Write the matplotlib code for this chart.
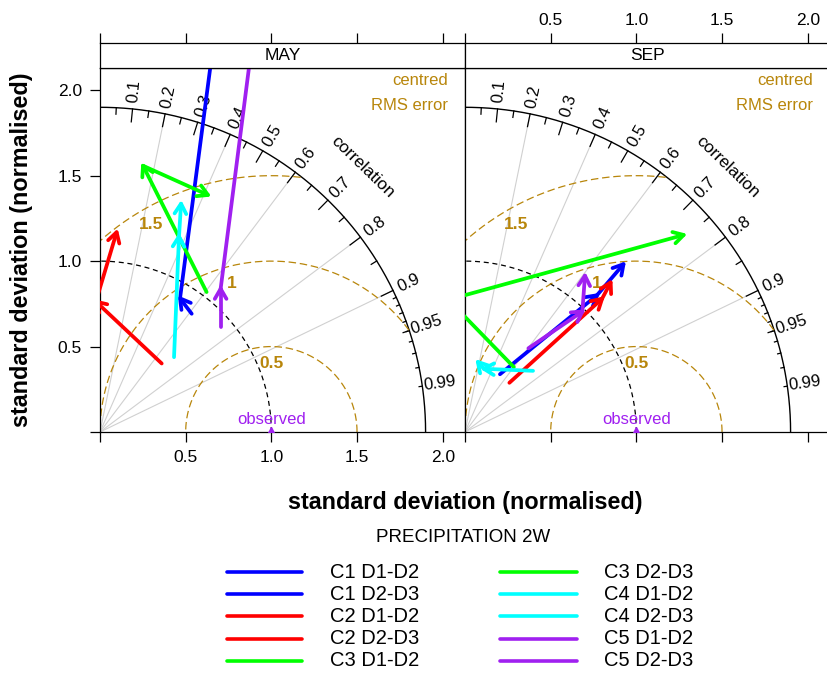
import numpy as np
import matplotlib
matplotlib.use("Agg")
import matplotlib.pyplot as plt
from matplotlib.lines import Line2D

plt.rcParams['font.family'] = ['Liberation Sans', 'DejaVu Sans']

# ---- data (normalised sd, cartesian: x = sd*R, y = sd*sqrt(1-R^2)), points D1, D2, D3
series = ["C1", "C2", "C3", "C4", "C5"]
colours = ["#0000FF", "#FF0000", "#00FF00", "#00FFFF", "#A020F0"]
steps = ["D1-D2", "D2-D3"]

may_x = {"C1": [0.535, 0.467, 0.685], "C2": [0.360, -0.024, 0.097], "C3": [0.622, 0.251, 0.630],
         "C4": [0.432, 0.461, 0.473], "C5": [0.704, 0.704, 0.910]}
may_y = {"C1": [0.692, 0.782, 2.450], "C2": [0.401, 0.763, 1.169], "C3": [0.819, 1.558, 1.387],
         "C4": [0.438, 1.144, 1.336], "C5": [0.614, 0.838, 2.450]}
sep_x = {"C1": [0.204, 0.770, 0.925], "C2": [0.259, 0.800, 0.850], "C3": [0.285, -0.097, 1.276],
         "C4": [0.397, 0.110, 0.075], "C5": [0.370, 0.685, 0.700]}
sep_y = {"C1": [0.338, 0.800, 0.982], "C2": [0.288, 0.780, 0.875], "C3": [0.380, 0.774, 1.153],
         "C4": [0.358, 0.370, 0.410], "C5": [0.490, 0.705, 0.915]}

months = ["MAY", "SEP"]
panel_x = [may_x, sep_x]
panel_y = [may_y, sep_y]

corr_labels = [0.1, 0.2, 0.3, 0.4, 0.5, 0.6, 0.7, 0.8, 0.9, 0.95, 0.99]
rms_levels = [0.5, 1.0, 1.5]
axis_ticks = [0, 0.5, 1.0, 1.5, 2.0]
axis_ticklabels = ["", "0.5", "1.0", "1.5", "2.0"]

# ---- layout
W, H = 827, 675
LIM = 2.13
MAXSD = 1.9
HEAD = 0.068
GOLD = "#B8860B"
PURPLE = "#A020F0"

fig = plt.figure(figsize=(W / 100, H / 100), dpi=100)


def box(x0, y0, x1, y1):
    return [x0 / W, 1 - y1 / H, (x1 - x0) / W, (y1 - y0) / H]


def arrow(ax, x0, y0, x1, y1, col):
    ax.plot([x0, x1], [y0, y1], color=col, lw=2.7, solid_capstyle='round', zorder=6)
    ang = np.arctan2(y1 - y0, x1 - x0)
    a1 = ang + np.pi - np.radians(30)
    a2 = ang + np.pi + np.radians(30)
    ax.plot([x1 + HEAD * np.cos(a1), x1, x1 + HEAD * np.cos(a2)],
            [y1 + HEAD * np.sin(a1), y1, y1 + HEAD * np.sin(a2)],
            color=col, lw=2.7, solid_capstyle='round', solid_joinstyle='round', zorder=6)


for k in range(2):
    left = 100 + 365 * k
    ax = fig.add_axes(box(left, 68, left + 365, 432))
    ax.set_xlim(0, LIM)
    ax.set_ylim(0, LIM)
    for sp in ax.spines.values():
        sp.set_linewidth(0.9)

    # grey correlation lines
    for c in [0.2, 0.4, 0.6, 0.8, 0.9]:
        ax.plot([0, MAXSD * c], [0, MAXSD * np.sqrt(1 - c ** 2)], color="#D0D0D0", lw=0.8, zorder=1)

    # outer arc and sd=1 arc
    th = np.linspace(0, np.pi / 2, 300)
    ax.plot(MAXSD * np.cos(th), MAXSD * np.sin(th), color="black", lw=1.0, zorder=2)
    ax.plot(np.cos(th), np.sin(th), color="black", lw=0.9, ls=(0, (4, 3)), zorder=2)

    # correlation ticks
    big = np.arange(0.1, 0.91, 0.1)
    med = np.arange(0.05, 0.96, 0.1)
    sml = np.arange(0.91, 0.995, 0.01)
    for vals, f in [(big, 0.96), (med, 0.98), (sml, 0.99)]:
        for c in vals:
            s = np.sqrt(1 - c ** 2)
            ax.plot([MAXSD * c, f * MAXSD * c], [MAXSD * s, f * MAXSD * s], color="black", lw=0.9, zorder=2)
    for c in corr_labels:
        a = np.degrees(np.arccos(c))
        ax.text(1.055 * MAXSD * c, 1.055 * MAXSD * np.sqrt(1 - c ** 2), str(c), rotation=a,
                rotation_mode='anchor', ha='center', va='center', fontsize=12, zorder=3)
    ax.text(1.535, 1.55, "correlation", rotation=-44, ha='center', va='center', fontsize=12.5, zorder=3)

    # centred RMS error arcs
    th2 = np.linspace(0, np.pi, 400)
    for rr in rms_levels:
        xx = 1 + rr * np.cos(th2)
        yy = rr * np.sin(th2)
        out = xx ** 2 + yy ** 2 > MAXSD ** 2
        xx[out] = np.nan
        yy[out] = np.nan
        ax.plot(xx, yy, color=GOLD, lw=0.9, ls=(0, (6, 3)), zorder=2)
        a = np.radians(90 + 30 * (rr - 0.5))
        ax.text(1 + (rr - 0.1) * np.cos(a), (rr - 0.1) * np.sin(a), f"{rr:g}", color=GOLD,
                fontweight='bold', fontsize=12.5, ha='center', va='center', zorder=3)
    ax.text(2.03, 2.054, "centred", color=GOLD, fontsize=12, ha='right', va='center')
    ax.text(2.03, 1.908, "RMS error", color=GOLD, fontsize=12, ha='right', va='center')

    # observed
    ax.plot([1.0], [0.0], marker='^', color=PURPLE, ms=7, zorder=4)
    ax.text(1.0, 0.076, "observed", color=PURPLE, fontsize=12, ha='center', va='center', zorder=4)

    # arrows
    xs, ys = panel_x[k], panel_y[k]
    for name, col in zip(series, colours):
        for j in range(2):
            arrow(ax, xs[name][j], ys[name][j], xs[name][j + 1], ys[name][j + 1], col)

    ax.set_xticks(axis_ticks)
    ax.set_yticks(axis_ticks)
    ax.tick_params(direction='out', length=7, width=0.9, labelsize=12.5, pad=6)
    if k == 0:
        ax.set_xticklabels(axis_ticklabels)
        ax.set_yticklabels(axis_ticklabels)
        ax.tick_params(axis='y', left=True, right=False)
    else:
        ax.tick_params(labelbottom=False, labelleft=False, left=False, right=True)

    # strip with top axis
    st = fig.add_axes(box(left, 43, left + 365, 68))
    st.set_xlim(0, LIM)
    st.set_yticks([])
    st.xaxis.tick_top()
    st.set_xticks(axis_ticks)
    st.tick_params(axis='x', direction='out', length=7, width=0.9, labelsize=12.5, pad=4)
    if k == 1:
        st.set_xticklabels(axis_ticklabels)
    else:
        st.set_xticklabels([])
    for sp in st.spines.values():
        sp.set_linewidth(0.9)
    st.text(0.5, 0.5, months[k], transform=st.transAxes, ha='center', va='center', fontsize=12.5)

# axis titles
fig.text(465 / W, 1 - 503 / H, "standard deviation (normalised)", ha='center', va='center',
         fontsize=16.8, fontweight='bold')
fig.text(22 / W, 1 - 250 / H, "standard deviation (normalised)", ha='center', va='center',
         fontsize=16.8, fontweight='bold', rotation=90)
fig.text(463 / W, 1 - 538 / H, "PRECIPITATION 2W", ha='center', va='center', fontsize=13.5)

# legend
labels = [f"{s} {st_}" for s in series for st_ in steps]
cols = [c for c in colours for _ in steps]
for i, (lab, col) in enumerate(zip(labels, cols)):
    column, row = divmod(i, 5)
    yy = 1 - (572 + 22.2 * row) / H
    x0, x1, xt = (227, 302, 330) if column == 0 else (500, 577, 604)
    fig.add_artist(Line2D([x0 / W, x1 / W], [yy, yy], color=col, lw=2.6,
                          solid_capstyle='round', transform=fig.transFigure))
    fig.text(xt / W, yy, lab, ha='left', va='center', fontsize=14.5)

fig.savefig("out.png", dpi=100)
